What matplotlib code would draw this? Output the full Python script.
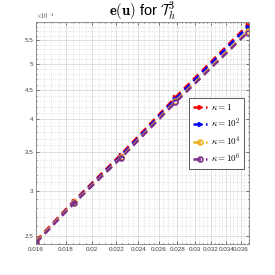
import matplotlib
matplotlib.use('Agg')
import matplotlib.pyplot as plt
from matplotlib.ticker import FixedLocator, MultipleLocator, FuncFormatter, NullFormatter

plt.rcParams['mathtext.fontset'] = 'cm'
plt.rcParams['font.family'] = ['Liberation Sans Narrow', 'Liberation Sans', 'DejaVu Sans']

# mesh sizes and errors
h = [0.016, 0.0186, 0.0224, 0.0278, 0.0370]
err_k1 = [2.45e-4, 2.88e-4, 3.47e-4, 4.37e-4, 5.84e-4]
err_k2 = [2.44e-4, 2.87e-4, 3.45e-4, 4.34e-4, 5.80e-4]
err_k4 = [2.44e-4, 2.86e-4, 3.43e-4, 4.30e-4, 5.70e-4]
err_k6 = [2.43e-4, 2.85e-4, 3.42e-4, 4.28e-4, 5.67e-4]
labels = [r'$\kappa = 1$', r'$\kappa = 10^2$', r'$\kappa = 10^4$', r'$\kappa = 10^6$']

x_ticks = [0.016, 0.018, 0.02, 0.022, 0.024, 0.026, 0.028, 0.03, 0.032, 0.034, 0.036]
y_ticks = [2.5e-4, 3e-4, 3.5e-4, 4e-4, 4.5e-4, 5e-4, 5.5e-4]

fig = plt.figure(figsize=(2.75, 2.75), dpi=100)
ax = fig.add_axes([0.131, 0.113, 0.774, 0.807])

lw = 1.8
dash = (3, 2)
ax.plot(h, err_k1, color='#ff0000', lw=lw, marker='>', ms=3, dashes=dash, label=labels[0])
ax.plot(h, err_k2, color='#0000ff', lw=lw, marker='>', ms=3, dashes=dash, label=labels[1])
ax.plot(h, err_k4, color='#EDB120', lw=lw, marker='o', ms=3.5, mfc='none', mew=1.2,
        dashes=dash, label=labels[2])
ax.plot(h, err_k6, color='#7E2F8E', lw=lw, marker='o', ms=3.5, mfc='none', mew=1.2,
        dashes=dash, label=labels[3])

ax.set_xscale('log')
ax.set_yscale('log')
ax.set_xlim(0.016, 0.0372)
ax.set_ylim(2.42e-4, 5.92e-4)

ax.xaxis.set_major_locator(FixedLocator(x_ticks))
ax.xaxis.set_major_formatter(FuncFormatter(lambda v, p: '%g' % v))
ax.xaxis.set_minor_locator(MultipleLocator(0.0005))
ax.xaxis.set_minor_formatter(NullFormatter())
ax.yaxis.set_major_locator(FixedLocator(y_ticks))
ax.yaxis.set_major_formatter(FuncFormatter(lambda v, p: '%g' % round(v * 1e4, 2)))
ax.yaxis.set_minor_locator(MultipleLocator(0.1e-4))
ax.yaxis.set_minor_formatter(NullFormatter())

ax.grid(True, which='major', color='#d9d9d9', lw=0.6)
ax.grid(True, which='minor', color='#d0d0d0', lw=0.5, ls=':')
ax.set_axisbelow(True)
ax.tick_params(which='both', direction='in', top=True, right=True, labelsize=4.5,
               colors='#404040', length=2, width=0.5, pad=2)
ax.tick_params(which='minor', length=1)
for s in ax.spines.values():
    s.set_color('#808080')
    s.set_linewidth(0.6)

ax.text(0.0, 1.005, r'$\times10^{-4}$', transform=ax.transAxes, fontsize=4.5,
        color='#404040', va='bottom', ha='left')
ax.set_title(r'$\mathbf{e}(\mathbf{u})$ for $\mathcal{T}_h^3$', fontsize=10.5, pad=4)

leg = ax.legend(loc='center right', bbox_to_anchor=(1.0, 0.497), fontsize=6.5,
                fancybox=False, edgecolor='#404040', framealpha=1,
                handlelength=1.6, borderpad=0.4, labelspacing=0.5, handletextpad=0.4)
leg.get_frame().set_linewidth(0.6)

fig.savefig('out.png', dpi=100)
